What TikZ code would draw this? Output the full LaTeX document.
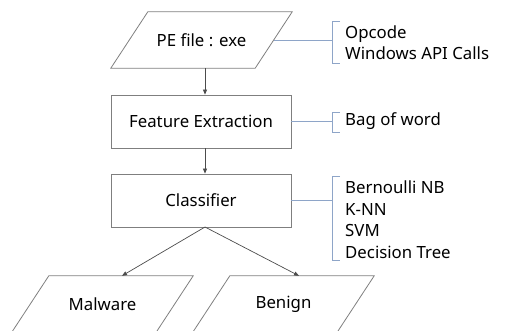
\documentclass[tikz,border=0pt]{standalone}
\usepackage{fontspec}
\setmainfont{Noto Sans}
\usetikzlibrary{arrows.meta,calc}
\definecolor{boxline}{HTML}{7F7F7F}
\definecolor{brk}{HTML}{8EA5C8}
\tikzset{
  flow/.style={draw=boxline, line width=0.8pt, minimum width=180pt, minimum height=53pt, inner sep=0pt, font=\fontsize{16.8}{19}\selectfont},
  pg/.style={minimum width=144pt, minimum height=56pt, inner sep=0pt, font=\fontsize{16.8}{19}\selectfont},
  pgline/.style={draw=boxline, line width=0.8pt},
  arr/.style={draw=black!70, line width=0.7pt, -{Triangle[length=5pt,width=4pt]}},
  ann/.style={anchor=west, align=left, inner sep=0pt, font=\fontsize{16.8}{21.6}\selectfont},
  brkline/.style={draw=brk, line width=0.8pt},
}
\begin{document}
\begin{tikzpicture}[x=1pt,y=-1pt]
\useasboundingbox (0,0) rectangle (505,330);
% nodes
\node[pg] (pe) at (201.5,40) {PE file : exe};
\node[flow] (feat) at (201,121.5) {Feature Extraction};
\node[flow] (cls) at (201,200.5) {Classifier};
\node[pg] (mal) at (102.5,304) {Malware};
\node[pg] (ben) at (283.5,304) {Benign};
% parallelograms
\foreach \n in {pe,mal,ben}{
  \draw[pgline] ([xshift=18.5pt]\n.north west) -- ([xshift=18.5pt]\n.north east)
    -- ([xshift=-18.5pt]\n.south east) -- ([xshift=-18.5pt]\n.south west) -- cycle;
}
% flow arrows
\coordinate (peb) at (205,68);
\coordinate (split) at (205,227);
\draw[arr] (peb) -- (peb |- feat.north);
\draw[arr] (feat.south -| split) -- (split |- cls.north);
\draw[arr] (split) -- ([xshift=19.5pt]mal.north);
\draw[arr] (split) -- ([xshift=15.5pt]ben.north);
% annotations
\node[ann] (a1) at (345,42.5) {Opcode\\Windows API Calls};
\node[ann] (a2) at (345,121.5) {Bag of word};
\node[ann] (a3) at (345,219.5) {Bernoulli NB\\K-NN\\SVM\\Decision Tree};
% brackets
\draw[brkline] (pe.east) -- (332.5,40);
\draw[brkline] (340,21) -- (332.5,21) -- (332.5,63) -- (340,63);
\draw[brkline] (feat.east) -- (332.5,121.5);
\draw[brkline] (340,112) -- (332.5,112) -- (332.5,132) -- (340,132);
\draw[brkline] (cls.east) -- (332.5,200.5);
\draw[brkline] (340,176) -- (332.5,176) -- (332.5,260) -- (340,260);
\end{tikzpicture}
\end{document}
